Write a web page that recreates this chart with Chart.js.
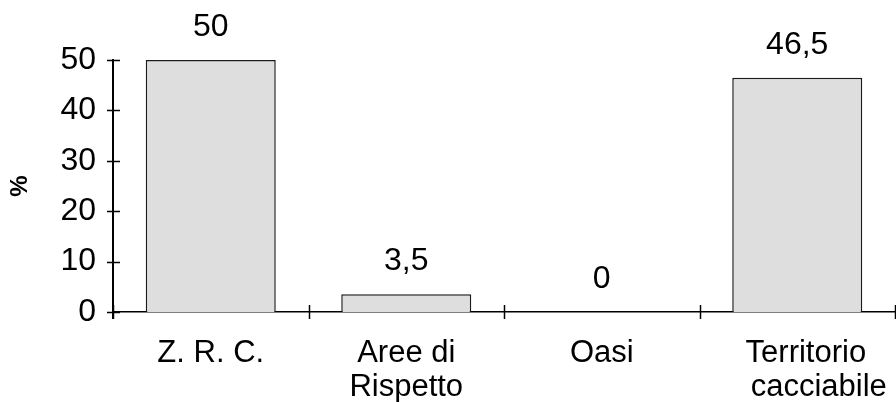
<!DOCTYPE html>
<html>
<head>
<meta charset="utf-8">
<script src="https://cdn.jsdelivr.net/npm/chart.js@4/dist/chart.umd.min.js"></script>
<style>
  html, body { margin: 0; padding: 0; background: #fff; }
  #wrap { width: 896px; height: 402px; position: relative; }
</style>
</head>
<body>
<div id="wrap"><canvas id="c" width="896" height="402"></canvas></div>
<script>
const categories = [["Z. R. C."], ["Aree di", "Rispetto"], ["Oasi"], ["  Territorio", "     cacciabile"]];
const values = [50, 3.5, 0, 46.5];
const yTicks = [0, 10, 20, 30, 40, 50];
const yTitle = "%";

const FONT = "'Liberation Sans', Arial, sans-serif";

const crossTicks = {
  id: 'crossTicks',
  afterDraw(chart) {
    const ctx = chart.ctx;
    const x = chart.scales.x, y = chart.scales.y;
    const area = chart.chartArea;
    ctx.save();
    ctx.strokeStyle = '#000';
    ctx.lineWidth = 1.5;
    yTicks.forEach(v => {
      const py = Math.round(y.getPixelForValue(v)) + 0.5;
      ctx.beginPath();
      ctx.moveTo(area.left - 6, py);
      ctx.lineTo(area.left + 7, py);
      ctx.stroke();
    });
    ctx.lineWidth = 2;
    ctx.beginPath();
    ctx.moveTo(area.left, area.bottom);
    ctx.lineTo(area.left, area.bottom + 7);
    ctx.stroke();
    ctx.lineWidth = 1.5;
    const n = categories.length;
    const w = (area.right - area.left) / n;
    for (let i = 0; i <= n; i++) {
      const px = (i < n ? x.getPixelForValue(i) - w / 2 : x.getPixelForValue(n - 1) + w / 2);
      const rx = Math.round(px) + 0.5;
      ctx.beginPath();
      ctx.moveTo(rx, area.bottom - 7);
      ctx.lineTo(rx, area.bottom + 7);
      ctx.stroke();
    }
    const meta = chart.getDatasetMeta(0);
    ctx.fillStyle = '#000';
    ctx.font = "32px " + FONT;
    ctx.textAlign = 'center';
    ctx.textBaseline = 'alphabetic';
    meta.data.forEach((bar, i) => {
      const txt = String(values[i]).replace('.', ',');
      ctx.fillText(txt, bar.x, bar.y - 24);
    });
    ctx.restore();
  }
};

new Chart(document.getElementById('c'), {
  type: 'bar',
  data: {
    labels: categories,
    datasets: [{
      data: values,
      backgroundColor: '#dedede',
      borderColor: '#1a1a1a',
      borderWidth: 1.5,
      borderSkipped: 'bottom',
      barPercentage: 0.665,
      categoryPercentage: 1.0
    }]
  },
  options: {
    responsive: false,
    animation: false,
    devicePixelRatio: 1,
    layout: { padding: { top: 60, right: 1, left: 0, bottom: 0 } },
    plugins: {
      legend: { display: false },
      tooltip: { enabled: false }
    },
    scales: {
      x: {
        grid: { display: false, drawTicks: false },
        border: { display: true, color: '#000', width: 1.5 },
        ticks: {
          color: '#000',
          font: { family: FONT, size: 31, lineHeight: 1.1 },
          padding: 24,
          maxRotation: 0,
          autoSkip: false
        },
        afterFit(scale) {
          scale.height = 90;
          scale.paddingLeft = 0;
          scale.paddingRight = 0;
        }
      },
      y: {
        min: 0,
        max: 50,
        afterBuildTicks(scale) { scale.ticks = yTicks.map(v => ({ value: v })); },
        grid: { display: false, drawTicks: false },
        border: { display: true, color: '#000', width: 2 },
        ticks: {
          color: '#000',
          font: { family: FONT, size: 32 },
          padding: 17
        },
        title: {
          display: true,
          text: yTitle,
          color: '#000',
          font: { family: FONT, size: 24, weight: 'bold' },
          padding: { top: 6, bottom: 0 }
        },
        afterFit(scale) { scale.width = 113; }
      }
    }
  },
  plugins: [crossTicks]
});
</script>
</body>
</html>
